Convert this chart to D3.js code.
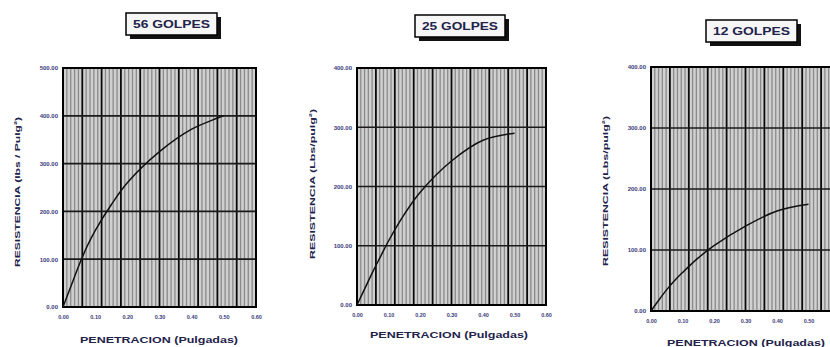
<!DOCTYPE html>
<html><head><meta charset="utf-8">
<script src="https://cdn.jsdelivr.net/npm/d3@7"></script>
<style>html,body{margin:0;padding:0;background:#fff;overflow:hidden}svg{display:block}</style>
</head><body>
<svg id="c" width="830" height="347"></svg>
<script>
// ---- data ----
const penetration = [0, 0.025, 0.05, 0.075, 0.1, 0.15, 0.2, 0.3, 0.4, 0.5];
const res56 = [0, 44, 88, 127, 160, 214, 260, 325, 372, 400];
const res25 = [0, 28, 56, 82, 108, 153, 190, 243, 278, 290];
const res12 = [0, 18, 35, 50, 63, 87, 107, 139, 164, 175];
const titles = ["56 GOLPES", "25 GOLPES", "12 GOLPES"];
const yTitles = ["RESISTENCIA (lbs / Pulg²)", "RESISTENCIA (Lbs/pulg²)", "RESISTENCIA (Lbs/pulg²)"];
const xTitle = "PENETRACION (Pulgadas)";
const xTickValues = [0, 0.1, 0.2, 0.3, 0.4, 0.5, 0.6];
const yTicks56 = [0, 100, 200, 300, 400, 500];
const yTicks25 = [0, 100, 200, 300, 400];
const yTicks12 = [0, 100, 200, 300, 400];
const seriesList = [res56, res25, res12];
const yTickList = [yTicks56, yTicks25, yTicks12];

// ---- layout ----
const layout = [
  {x0: 63, x1: 256, y0: 68, y1: 307, box: {x: 126, y: 13, w: 91, h: 22}, yt: {x: 18, y: 192}, xt: {x: 159, y: 343}},
  {x0: 357, x1: 546, y0: 68, y1: 305, box: {x: 415, y: 15, w: 90, h: 22}, yt: {x: 313, y: 184}, xt: {x: 449, y: 338}},
  {x0: 651, x1: 840, y0: 67, y1: 311, box: {x: 706, y: 20, w: 91, h: 22}, yt: {x: 606, y: 191}, xt: {x: 746, y: 346}}
];

const svg = d3.select("#c");
const txtCol = "#22224a";

layout.forEach((L, i) => {
  const yTicks = yTickList[i];
  const x = d3.scaleLinear().domain([0, 0.6]).range([L.x0, L.x1]);
  const y = d3.scaleLinear().domain([0, d3.max(yTicks)]).range([L.y1, L.y0]);
  const g = svg.append("g");

  g.append("rect").attr("x", L.x0).attr("y", L.y0).attr("width", L.x1 - L.x0).attr("height", L.y1 - L.y0)
    .attr("fill", "#d0d0d0");

  const minor = d3.range(0, 0.6001, 0.012).filter((v, k) => k % 5 !== 0);
  g.selectAll(".mn").data(minor).join("line")
    .attr("x1", d => x(d)).attr("x2", d => x(d)).attr("y1", L.y0).attr("y2", L.y1)
    .attr("stroke", "#8a8a8a").attr("stroke-width", 1.3);

  const major = d3.range(0, 0.6001, 0.06);
  g.selectAll(".mj").data(major).join("line")
    .attr("x1", d => x(d)).attr("x2", d => x(d)).attr("y1", L.y0).attr("y2", L.y1)
    .attr("stroke", "#0a0a0a").attr("stroke-width", 1.8);

  g.selectAll(".hz").data(yTicks).join("line")
    .attr("x1", L.x0).attr("x2", L.x1).attr("y1", d => y(d)).attr("y2", d => y(d))
    .attr("stroke", "#1a1a1a").attr("stroke-width", 1.7);

  g.append("rect").attr("x", L.x0).attr("y", L.y0).attr("width", L.x1 - L.x0).attr("height", L.y1 - L.y0)
    .attr("fill", "none").attr("stroke", "#000").attr("stroke-width", 2);

  // curve
  const pts = penetration.map((p, k) => [p, seriesList[i][k]]);
  g.append("path").datum(pts)
    .attr("d", d3.line().x(d => x(d[0])).y(d => y(d[1])).curve(d3.curveCatmullRom.alpha(0.5)))
    .attr("fill", "none").attr("stroke", "#111").attr("stroke-width", 1.5);

  // axes
  const ax = g.append("g").attr("transform", `translate(0,${L.y1})`)
    .call(d3.axisBottom(x).tickValues(xTickValues).tickSize(0).tickPadding(8).tickFormat(d3.format(".2f")));
  ax.select(".domain").remove();
  ax.selectAll("text").attr("font-family", "Arial, Liberation Sans, sans-serif").attr("font-size", 5.5)
    .attr("font-weight", "bold").attr("fill", "#3a3a7a");

  const ay = g.append("g").attr("transform", `translate(${L.x0},0)`)
    .call(d3.axisLeft(y).tickValues(yTicks).tickSize(0).tickPadding(5).tickFormat(d3.format(".2f")));
  ay.select(".domain").remove();
  ay.selectAll("text").attr("font-family", "Arial, Liberation Sans, sans-serif").attr("font-size", 6)
    .attr("font-weight", "bold").attr("fill", "#3a3a7a");

  // axis titles
  g.append("text").attr("x", L.xt.x).attr("y", L.xt.y).attr("text-anchor", "middle")
    .attr("font-family", "Arial, Liberation Sans, sans-serif").attr("font-weight", "bold").attr("font-size", 9)
    .attr("textLength", 158).attr("lengthAdjust", "spacingAndGlyphs").attr("fill", txtCol).text(xTitle);

  g.append("text").attr("transform", `translate(${L.yt.x},${L.yt.y}) rotate(-90)`).attr("text-anchor", "middle")
    .attr("dominant-baseline", "middle")
    .attr("font-family", "Arial, Liberation Sans, sans-serif").attr("font-weight", "bold").attr("font-size", 8)
    .attr("textLength", 150).attr("lengthAdjust", "spacingAndGlyphs").attr("fill", txtCol).text(yTitles[i]);

  // title box
  const B = L.box;
  g.append("rect").attr("x", B.x + 4).attr("y", B.y + 4).attr("width", B.w).attr("height", B.h).attr("fill", "#111");
  g.append("rect").attr("x", B.x).attr("y", B.y).attr("width", B.w).attr("height", B.h)
    .attr("fill", "#f6f6f6").attr("stroke", "#000").attr("stroke-width", 1.5);
  g.append("text").attr("x", B.x + B.w / 2).attr("y", B.y + B.h / 2 + 4).attr("text-anchor", "middle")
    .attr("font-family", "Arial, Liberation Sans, sans-serif").attr("font-weight", "bold").attr("font-size", 11)
    .attr("textLength", B.w - 14).attr("lengthAdjust", "spacingAndGlyphs").attr("fill", txtCol).text(titles[i]);
});
</script>
</body></html>
